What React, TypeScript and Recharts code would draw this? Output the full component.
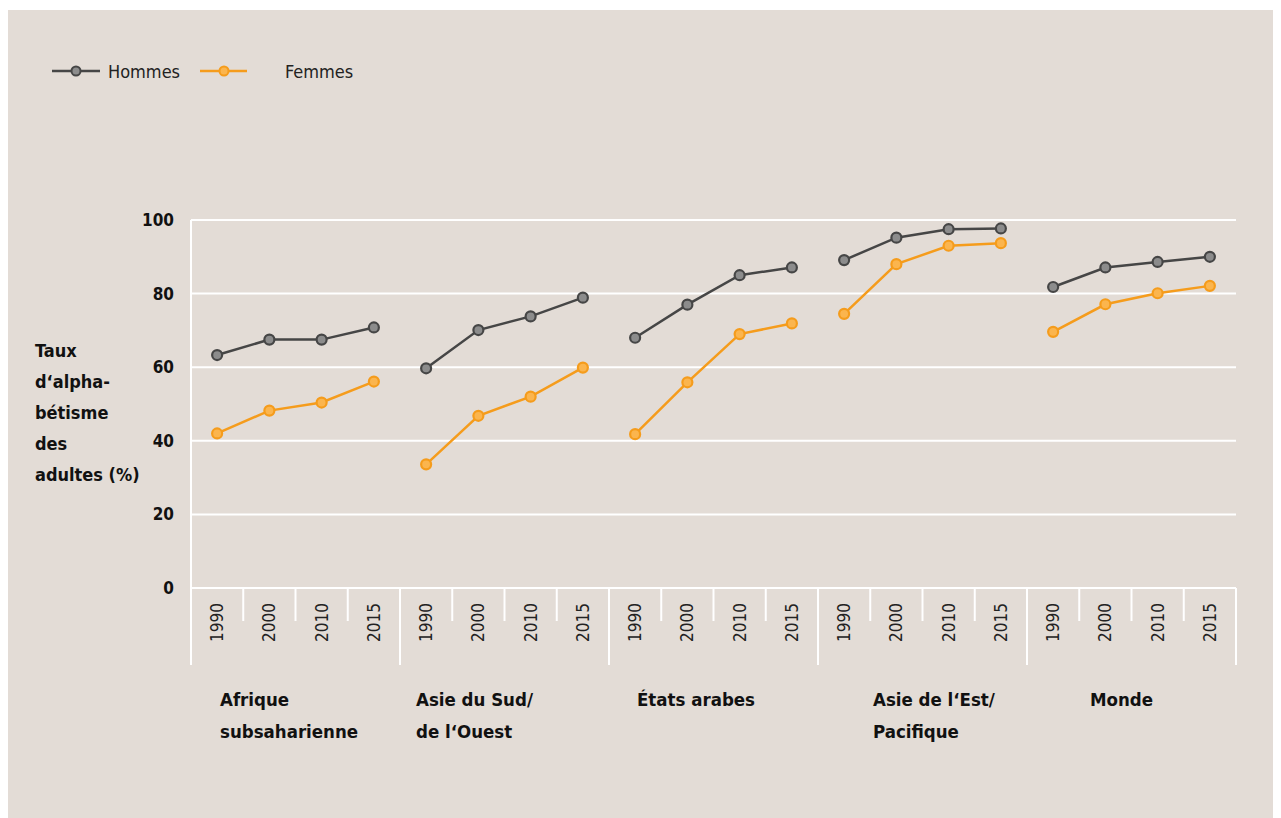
import { LineChart, Line, XAxis, YAxis, CartesianGrid } from 'recharts';

const groups = [
  ['Afrique', 'subsaharienne'],
  ['Asie du Sud/', 'de l‘Ouest'],
  ['États arabes'],
  ['Asie de l‘Est/', 'Pacifique'],
  ['Monde'],
];
const years = ['1990', '2000', '2010', '2015'];

// literacy rate (%) per group, in year order
const hommes = [
  [63.3, 67.5, 67.5, 70.8],
  [59.7, 70.1, 73.8, 78.9],
  [68.0, 77.0, 85.0, 87.1],
  [89.1, 95.2, 97.5, 97.7],
  [81.8, 87.1, 88.6, 90.0],
];
const femmes = [
  [42.0, 48.2, 50.4, 56.1],
  [33.6, 46.8, 52.0, 59.9],
  [41.8, 55.9, 69.0, 71.9],
  [74.5, 88.0, 93.0, 93.7],
  [69.6, 77.1, 80.1, 82.1],
];
const yTicks = [0, 20, 40, 60, 80, 100];
const yLabel = ['Taux', 'd‘alpha-', 'bétisme', 'des', 'adultes (%)'];

const data = groups.flatMap((_, g) =>
  years.map((year, i) => ({
    key: `${g}-${year}`,
    year,
    [`h${g}`]: hommes[g][i],
    [`f${g}`]: femmes[g][i],
  }))
);

const FONT = '"DejaVu Sans Condensed", "Liberation Sans Narrow", "Roboto", sans-serif';
const W = 1273;
const H = 808;
const LEFT = 183;
const RIGHT = 1228;
const TOP = 210;
const BOTTOM = 578;
const BAND = (RIGHT - LEFT) / data.length;
const labelShift = [3, -10, 2, 29, 37];

const GREY_LINE = '#464646';
const GREY_DOT = '#8c8c8c';
const ORANGE = '#f59c1c';
const ORANGE_DOT = '#fbb54e';

const XTick = (props: any) => {
  const { x, index } = props;
  const left = x - BAND / 2;
  const first = index % 4 === 0;
  const g = Math.floor(index / 4);
  return (
    <g>
      {index === 0 && <line x1={left} x2={left} y1={TOP} y2={BOTTOM} stroke="#fff" strokeWidth={2} />}
      <line x1={left} x2={left} y1={BOTTOM} y2={first ? BOTTOM + 77 : BOTTOM + 33} stroke="#fff" strokeWidth={2} />
      {index === data.length - 1 && (
        <line x1={left + BAND} x2={left + BAND} y1={BOTTOM} y2={BOTTOM + 77} stroke="#fff" strokeWidth={2} />
      )}
      <text
        x={0}
        y={0}
        transform={`translate(${x + 6},${BOTTOM + 15}) rotate(-90)`}
        textAnchor="end"
        fontFamily={FONT}
        fontSize={17}
        fill="#222"
      >
        {data[index].year}
      </text>
      {first &&
        groups[g].map((line, k) => (
          <text
            key={k}
            x={x - BAND / 2 + 26 + labelShift[g]}
            y={BOTTOM + 118 + k * 32}
            fontFamily={FONT}
            fontWeight="bold"
            fontSize={18.5}
            fill="#111"
          >
            {line}
          </text>
        ))}
    </g>
  );
};

const YTick = (props: any) => {
  const { y, payload } = props;
  return (
    <text x={LEFT - 17} y={y + 6} textAnchor="end" fontFamily={FONT} fontWeight="bold" fontSize={17} fill="#111">
      {payload.value}
    </text>
  );
};

const renderYLabel = () => (
  <text fontFamily={FONT} fontWeight="bold" fontSize={18} fill="#111">
    {yLabel.map((l, i) => (
      <tspan key={i} x={27} y={347 + i * 31}>{l}</tspan>
    ))}
  </text>
);

export default function App() {
  return (
    <div style={{ width: W, height: H, marginTop: 2, background: '#e3dcd6', position: 'relative' }}>
      <svg width={400} height={40} style={{ position: 'absolute', left: 40, top: 40 }}>
        <line x1={4} x2={52} y1={21} y2={21} stroke={GREY_LINE} strokeWidth={2.5} />
        <circle cx={28} cy={21} r={4.5} fill={GREY_DOT} stroke={GREY_LINE} strokeWidth={2} />
        <text x={60} y={28} fontFamily={FONT} fontSize={18} fill="#222">Hommes</text>
        <line x1={152} x2={199} y1={21} y2={21} stroke={ORANGE} strokeWidth={2.5} />
        <circle cx={176} cy={21} r={4.5} fill={ORANGE_DOT} stroke={ORANGE} strokeWidth={2} />
        <text x={237} y={28} fontFamily={FONT} fontSize={18} fill="#222">Femmes</text>
      </svg>
      <LineChart width={W} height={H} data={data} margin={{ top: TOP, right: W - RIGHT, bottom: 0, left: 0 }}>
        <CartesianGrid vertical={false} stroke="#fff" strokeWidth={2} />
        <XAxis
          dataKey="key"
          scale="band"
          interval={0}
          axisLine={false}
          tickLine={false}
          height={H - BOTTOM}
          tick={<XTick />}
        />
        <YAxis
          domain={[0, 100]}
          ticks={yTicks}
          axisLine={false}
          tickLine={false}
          width={LEFT}
          tick={<YTick />}
          label={{ content: renderYLabel }}
        />
        {groups.map((_, g) => (
          <Line
            key={`h${g}`}
            dataKey={`h${g}`}
            stroke={GREY_LINE}
            strokeWidth={2.5}
            dot={{ r: 5, fill: GREY_DOT, stroke: GREY_LINE, strokeWidth: 2.2 }}
            activeDot={false}
            isAnimationActive={false}
          />
        ))}
        {groups.map((_, g) => (
          <Line
            key={`f${g}`}
            dataKey={`f${g}`}
            stroke={ORANGE}
            strokeWidth={2.5}
            dot={{ r: 5, fill: ORANGE_DOT, stroke: ORANGE, strokeWidth: 2.2 }}
            activeDot={false}
            isAnimationActive={false}
          />
        ))}
      </LineChart>
    </div>
  );
}
